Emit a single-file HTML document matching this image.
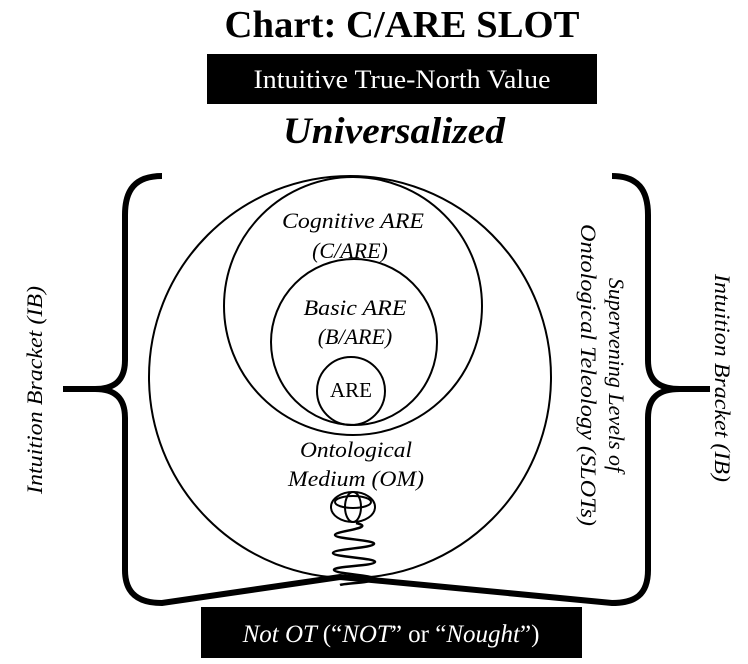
<!DOCTYPE html>
<html><head><meta charset="utf-8"><style>html,body{margin:0;padding:0;background:#fff}svg{display:block}</style></head>
<body>
<svg width="748" height="664" viewBox="0 0 748 664" xmlns="http://www.w3.org/2000/svg" font-family="Liberation Serif, serif">
<text x="402" y="37" font-size="38" font-weight="bold" text-anchor="middle" textLength="355" lengthAdjust="spacingAndGlyphs">Chart: C/ARE SLOT</text>
<rect x="207" y="54" width="390" height="50" fill="#000"/>
<text x="402" y="88" font-size="26" fill="#fff" text-anchor="middle" textLength="297" lengthAdjust="spacingAndGlyphs">Intuitive True-North Value</text>
<text x="394" y="143" font-size="37" font-weight="bold" font-style="italic" text-anchor="middle" textLength="222" lengthAdjust="spacingAndGlyphs">Universalized</text>

<g fill="none" stroke="#000" stroke-width="2">
<circle cx="350" cy="377" r="201"/>
<circle cx="353" cy="306" r="129"/>
<circle cx="354" cy="342" r="83"/>
<circle cx="351" cy="391" r="34"/>
<ellipse cx="353" cy="507" rx="22" ry="15"/>
<ellipse cx="353" cy="507" rx="8" ry="15"/>
<ellipse cx="353" cy="502" rx="18" ry="6"/>
</g>
<path fill="none" stroke="#000" stroke-width="2.5" d="M356 523 C378 528 335 531 335 535 C335 539 376 540 374 544 C372 548 333 549 333 553 C333 557 376 558 375 562 C374 566 333 566 334 570 C335 574 375 575 374 579 C372 583 345 583 340 585"/>

<g fill="none" stroke="#000" stroke-width="6">
<path d="M162 176 C135 176 125 190 125 215 L125 360 C125 380 115 389 95 389 L63 389 M95 389 C115 389 125 398 125 418 L125 570 C125 595 140 603 162 603 L340 577 L612 603 C635 603 648 595 648 570 L648 418 C648 398 658 389 680 389 L710 389 M680 389 C658 389 648 380 648 360 L648 215 C648 190 638 176 612 176"/>
</g>

<g font-style="italic" font-size="22" text-anchor="middle">
<text x="353" y="228" textLength="142" lengthAdjust="spacingAndGlyphs">Cognitive ARE</text>
<text x="350" y="258">(C/ARE)</text>
<text x="355" y="315" textLength="103" lengthAdjust="spacingAndGlyphs">Basic ARE</text>
<text x="355" y="344">(B/ARE)</text>
<text x="356" y="457" textLength="112" lengthAdjust="spacingAndGlyphs">Ontological</text>
<text x="356" y="486" textLength="136" lengthAdjust="spacingAndGlyphs">Medium (OM)</text>
<text transform="translate(42,390) rotate(-90)" textLength="208" lengthAdjust="spacingAndGlyphs">Intuition Bracket (IB)</text>
<text transform="translate(715,378) rotate(90)" textLength="208" lengthAdjust="spacingAndGlyphs">Intuition Bracket (IB)</text>
<text transform="translate(609,375) rotate(90)">Supervening Levels of</text>
<text transform="translate(581,375) rotate(90)" textLength="302" lengthAdjust="spacingAndGlyphs">Ontological Teleology (SLOTs)</text>
</g>
<text x="351" y="397" font-size="21" text-anchor="middle">ARE</text>

<rect x="201" y="607" width="381" height="51" fill="#000"/>
<text x="391" y="642" font-size="25" fill="#fff" text-anchor="middle" font-style="italic">Not OT <tspan font-style="normal">(“</tspan>NOT<tspan font-style="normal">” or “</tspan>Nought<tspan font-style="normal">”)</tspan></text>
</svg>
</body></html>
